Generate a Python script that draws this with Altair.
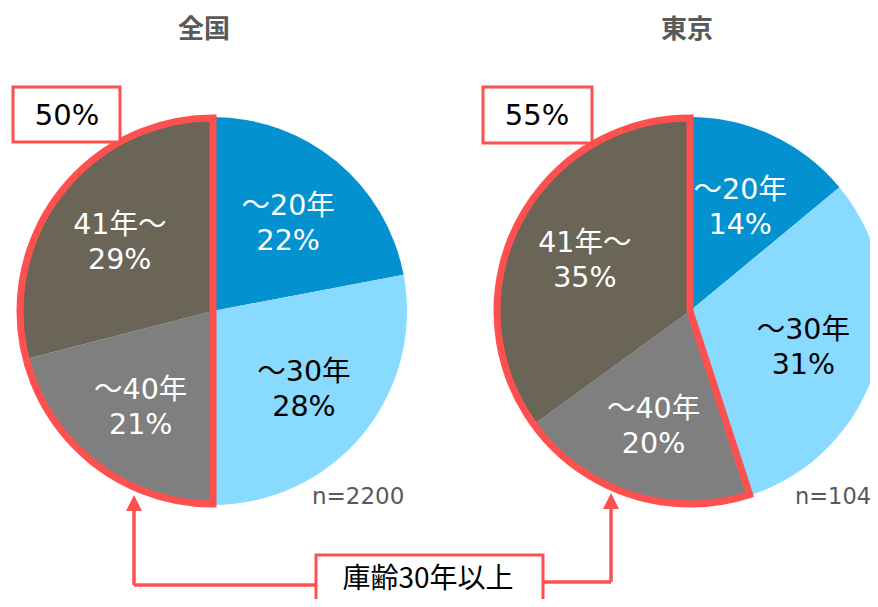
import altair as alt
import pandas as pd

categories = ["～20年", "～30年", "～40年", "41年～"]
zenkoku = [22, 28, 21, 29]
tokyo = [14, 31, 20, 35]
titles = ["全国", "東京"]
over30_labels = ["50%", "55%"]
n_labels = ["n=2200", "n=104"]
bottom_label = "庫齢30年以上"

colors = ["#0392CF", "#88DBFF", "#7F7F7F", "#6B6557"]
RED = "#FF5050"
FONT = "DejaVu Sans, Noto Sans CJK JP"
JFONT = "Noto Sans CJK JP"
R = 194


def one_text(t, x, y, size, color="black", bold=False, align="center", font=FONT):
    return alt.Chart(pd.DataFrame({"t": [t]})).mark_text(
        fontSize=size, font=font, color=color, align=align, baseline="middle",
        fontWeight="bold" if bold else "normal",
    ).encode(text="t:N", x=alt.value(x), y=alt.value(y))


def pie(vals, cx, cy):
    df = pd.DataFrame({"cat": categories, "v": vals, "idx": list(range(len(vals)))})
    df["label"] = df["cat"] + "\n" + df["v"].astype(str) + "%"
    base = alt.Chart(df).encode(
        theta=alt.Theta("v:Q", stack=True),
        order=alt.Order("idx:Q"),
        x=alt.value(cx), y=alt.value(cy),
    )
    arcs = base.mark_arc(outerRadius=R).encode(
        color=alt.Color("cat:N", scale=alt.Scale(domain=categories, range=colors), legend=None)
    )
    txt = base.mark_text(radius=118, lineBreak="\n", fontSize=28.5, font=FONT, lineHeight=35,
                         baseline="middle", dy=-14).encode(
        text="label:N",
        color=alt.condition(alt.datum.cat == "～30年", alt.value("black"), alt.value("white")),
    )
    g = pd.DataFrame({
        "grp": ["under", "over"],
        "v": [sum(vals[:2]), sum(vals[2:])],
        "idx": [0, 1],
    })
    outline = alt.Chart(g).mark_arc(outerRadius=R - 1, fill="transparent", strokeWidth=7,
                                    strokeJoin="miter").encode(
        theta=alt.Theta("v:Q", stack=True),
        order=alt.Order("idx:Q"),
        x=alt.value(cx), y=alt.value(cy),
        stroke=alt.Stroke("grp:N", scale=alt.Scale(domain=["under", "over"],
                                                    range=["rgba(0,0,0,0)", RED]), legend=None),
    )
    return [arcs, txt, outline]


def box(x, x2, y, y2):
    return alt.Chart(pd.DataFrame({"a": [0]})).mark_rect(
        fill="white", stroke=RED, strokeWidth=3
    ).encode(x=alt.value(x), x2=alt.value(x2), y=alt.value(y), y2=alt.value(y2))


def rule(x, x2, y, y2):
    return alt.Chart(pd.DataFrame({"a": [0]})).mark_rule(
        stroke=RED, strokeWidth=3.5
    ).encode(x=alt.value(x), x2=alt.value(x2), y=alt.value(y), y2=alt.value(y2))


def head(x, y):
    return alt.Chart(pd.DataFrame({"a": [0]})).mark_point(
        shape="M0,-1L1,1L-1,1Z", size=256, filled=True, fill=RED, stroke=None, opacity=1
    ).encode(x=alt.value(x), y=alt.value(y))


layers = []
layers += pie(zenkoku, 205, 303)
layers += pie(tokyo, 682, 303)
layers += [
    one_text(titles[0], 196, 22, 26, color="#595959", bold=True, font=JFONT),
    one_text(titles[1], 679, 22, 26, color="#595959", bold=True, font=JFONT),
    one_text(n_labels[0], 304, 489, 23, color="#595959", align="left"),
    one_text(n_labels[1], 787, 489, 22.5, color="#595959", align="left"),
    box(5, 112, 79, 134),
    one_text(over30_labels[0], 59, 108, 29),
    box(475, 584, 79, 135),
    one_text(over30_labels[1], 529, 108, 29),
    rule(126, 126, 500, 577),
    rule(126, 308, 577, 577),
    head(126, 495),
    rule(603, 603, 498, 574),
    rule(535, 603, 574, 574),
    head(603, 493),
    box(308, 535, 547, 620),
    one_text(bottom_label, 420, 572, 28, font=JFONT),
]

chart = alt.layer(*layers).properties(
    width=862, height=591, autosize="none", padding=0
).configure_view(stroke=None)

chart.save("out.html", embed_options={"renderer": "svg", "actions": False})
